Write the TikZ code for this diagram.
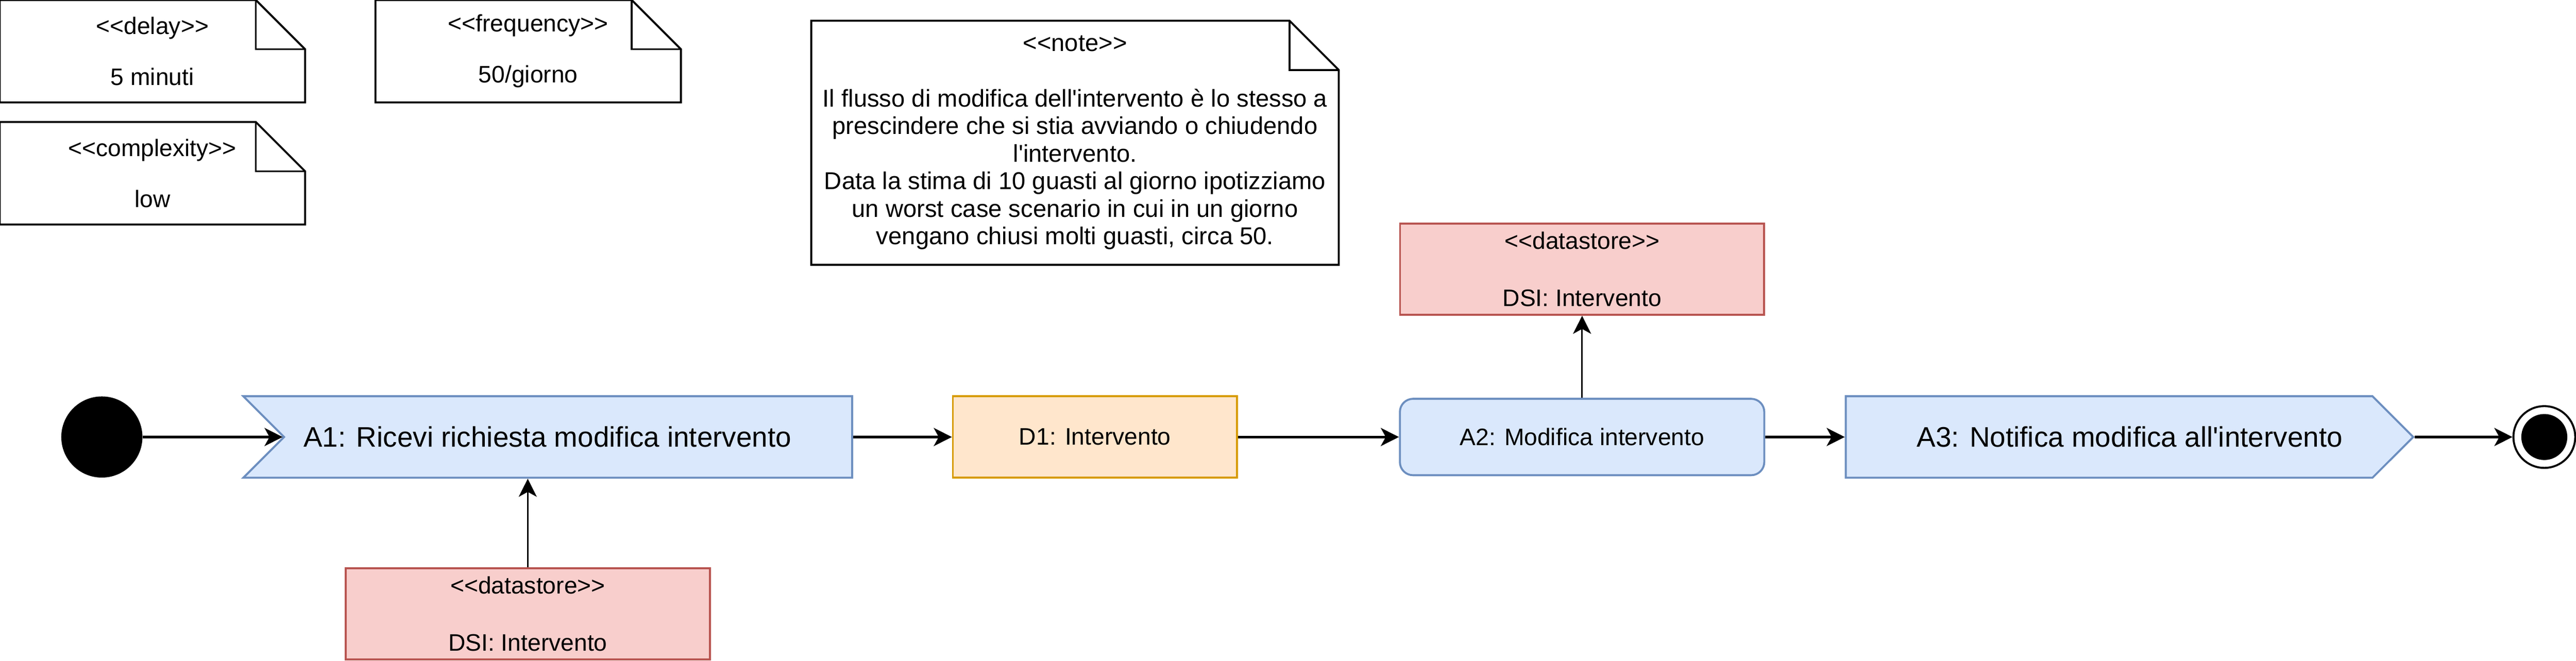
\documentclass[tikz,border=0pt]{standalone}
\usepackage{fontspec}
\newfontfamily\drawfont{Liberation Sans}
\usetikzlibrary{arrows.meta, shapes.symbols}

\newcommand{\stereo}[1]{<{}<#1>{}>}

\definecolor{actfill}{HTML}{DAE8FC}
\definecolor{actline}{HTML}{6C8EBF}
\definecolor{dsfill}{HTML}{F8CECC}
\definecolor{dsline}{HTML}{B85450}
\definecolor{objfill}{HTML}{FFE6CC}
\definecolor{objline}{HTML}{D79B00}

\begin{document}
\begin{tikzpicture}[
    x=1pt, y=-1pt,
    every node/.style={align=center, inner sep=0pt, font=\drawfont\fontsize{14.5}{17}\selectfont},
    notebox/.style={minimum width=185.5pt, minimum height=62pt},
    datastore/.style={draw=dsline, fill=dsfill, line width=1.2pt, minimum width=221.6pt, minimum height=55.5pt},
    action/.style={draw=actline, fill=actfill, line width=1.2pt, minimum height=49.6pt},
    bigtext/.style={font=\drawfont\fontsize{17.2}{20}\selectfont},
    flow/.style={-{Stealth[length=11pt, width=11pt, inset=3pt]}, line width=1.6pt},
    link/.style={-{Stealth[length=11pt, width=11pt, inset=3pt]}, line width=0.9pt}
]
\useasboundingbox (0,0) rectangle (1568,402.2);

% Notes
\node (delay) [notebox] at (92.75,31.15) {\stereo{delay}\\[14pt]5 minuti};
\node (frequency) [notebox] at (321.5,31.15) {\stereo{frequency}\\[14pt]50/giorno};
\node (complexity) [notebox] at (92.75,105.45) {\stereo{complexity}\\[14pt]low};
\node (note) [notebox, minimum width=320.7pt, minimum height=148.2pt, font=\drawfont\fontsize{14.8}{16.8}\selectfont] at (654.35,86.9)
    {\stereo{note}\\[16.8pt]Il flusso di modifica dell'intervento è lo stesso a\\prescindere che si stia avviando o chiudendo\\l'intervento.\\Data la stima di 10 guasti al giorno ipotizziamo\\un worst case scenario in cui in un giorno\\vengano chiusi molti guasti, circa 50.};

\foreach \n in {delay,frequency,complexity,note} {
    \draw [line width=1.2pt] (\n.south west) |- ([xshift=-30pt]\n.north east) -- ([yshift=-30pt]\n.north east) |- (\n.south west) -- cycle;
    \draw [line width=1.2pt] ([xshift=-30pt]\n.north east) |- ([yshift=-30pt]\n.north east);
}

% Flow
\node (init) [circle, fill=black, minimum size=49.4pt] at (62,266) {};
\node (a1) [action, bigtext, signal, signal from=west, signal to=nowhere, signal pointer angle=90, minimum width=370.6pt] at (345.8,266) {\hspace*{-25pt}A1: Ricevi richiesta modifica intervento};
\node (d1) [draw=objline, fill=objfill, line width=1.2pt, minimum width=173pt, minimum height=49.6pt] at (666.5,266) {D1: Intervento};
\node (a2) [action, rounded corners=8pt, minimum width=221.8pt, minimum height=46.5pt] at (963,266) {A2: Modifica intervento};
\node (a3) [action, bigtext, signal, signal to=east, signal pointer angle=90, minimum width=345.4pt] at (1283.8,266) {A3: Notifica modifica all'intervento\hspace*{-25pt}};
\node (final) [circle, draw, line width=1.2pt, minimum size=37.6pt] at (1548.7,266) {};
\fill (final) circle [radius=14];

% Datastores
\node (ds1) [datastore] at (321.25,373.6) {\stereo{datastore}\\[18pt]DSI: Intervento};
\node (ds2) [datastore] at (963,163.85) {\stereo{datastore}\\[18pt]DSI: Intervento};

% Arrows
\draw [flow] (init) -- (a1);
\draw [flow] (a1) -- (d1);
\draw [flow] (d1) -- (a2);
\draw [flow] (a2) -- (a3);
\draw [flow] (a3) -- (final);
\draw [link] (ds1.north) -- (ds1.north |- a1.south);
\draw [link] (a2) -- (ds2);

\end{tikzpicture}
\end{document}
